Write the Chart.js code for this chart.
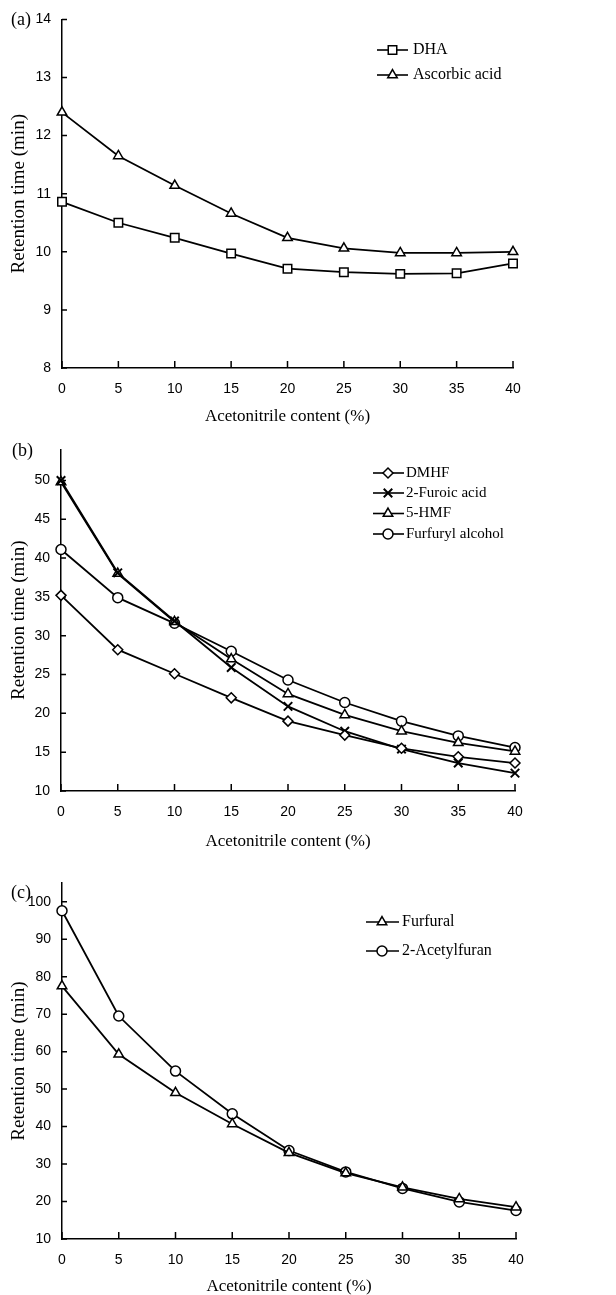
<!DOCTYPE html>
<html>
<head>
<meta charset="utf-8">
<script src="https://cdn.jsdelivr.net/npm/chart.js"></script>
<style>
body { margin: 0; background: #fff; }
#wrap { position: relative; width: 616px; height: 1295px; }
canvas { position: absolute; left: 0; }
.tag { position: absolute; font-family: "Liberation Serif", "Times New Roman", serif; font-size: 18px; line-height: 18px; color: #000; }
</style>
</head>
<body>
<div id="wrap">
  <canvas id="chartA" width="616" height="430" style="top:0"></canvas>
  <canvas id="chartB" width="616" height="430" style="top:430px"></canvas>
  <canvas id="chartC" width="616" height="435" style="top:860px"></canvas>
  <div class="tag" style="left:11px;top:10px">(a)</div>
  <div class="tag" style="left:12px;top:441px">(b)</div>
  <div class="tag" style="left:11px;top:883px">(c)</div>
</div>
<script>
// acetonitrile content (%) on x
const acetonitrile = ['0', '5', '10', '15', '20', '25', '30', '35', '40'];

// (a)
const dha = [10.86, 10.5, 10.24, 9.97, 9.71, 9.65, 9.62, 9.63, 9.8];
const ascorbicAcid = [12.4, 11.65, 11.14, 10.66, 10.24, 10.06, 9.98, 9.98, 10.0];
const yTicksA = [8, 9, 10, 11, 12, 13, 14];

// (b)
const dmhf = [35.2, 28.2, 25.1, 22.0, 19.0, 17.2, 15.5, 14.4, 13.6];
const furoicAcid = [50.0, 38.1, 31.9, 25.9, 20.9, 17.7, 15.4, 13.6, 12.3];
const hmf = [49.8, 38.0, 31.8, 27.0, 22.5, 19.8, 17.7, 16.2, 15.1];
const furfurylAlcohol = [41.1, 34.9, 31.6, 28.0, 24.3, 21.4, 19.0, 17.1, 15.6];
const yTicksB = [10, 15, 20, 25, 30, 35, 40, 45, 50];

// (c)
const furfural = [77.5, 59.3, 49.0, 40.7, 33.0, 27.6, 23.8, 20.7, 18.5];
const acetylfuran = [97.6, 69.5, 54.8, 43.4, 33.6, 27.9, 23.5, 19.9, 17.6];
const yTicksC = [10, 20, 30, 40, 50, 60, 70, 80, 90, 100];

const serif = '"Liberation Serif", "Times New Roman", serif';
Chart.defaults.font.family = '"Liberation Sans", Arial, sans-serif';
Chart.defaults.color = '#000';

// tick marks pointing into the plot
const inwardTicks = {
  id: 'inwardTicks',
  beforeDatasetsDraw(chart) {
    const ctx = chart.ctx, a = chart.chartArea;
    const x = chart.scales.x, y = chart.scales.y;
    ctx.save();
    ctx.strokeStyle = '#000';
    ctx.lineWidth = 1.5;
    ctx.beginPath();
    x.ticks.forEach((t, i) => {
      const px = x.getPixelForTick(i);
      ctx.moveTo(px, a.bottom);
      ctx.lineTo(px, a.bottom - 7);
    });
    y.ticks.forEach((t, i) => {
      const py = y.getPixelForTick(i);
      ctx.moveTo(a.left, py);
      ctx.lineTo(a.left + 5, py);
    });
    ctx.stroke();
    ctx.restore();
  }
};

// legend with line through the marker
const seriesKey = {
  id: 'seriesKey',
  afterDraw(chart, args, opts) {
    const ctx = chart.ctx;
    ctx.save();
    chart.data.datasets.forEach((ds, i) => {
      const y = opts.ys[i];
      ctx.strokeStyle = '#000';
      ctx.lineWidth = 1.6;
      ctx.beginPath();
      ctx.moveTo(opts.x0, y);
      ctx.lineTo(opts.x1, y);
      ctx.stroke();
      ctx.fillStyle = '#fff';
      ctx.lineWidth = ds.pointBorderWidth;
      Chart.helpers.drawPoint(ctx, {
        pointStyle: ds.pointStyle,
        radius: ds.pointRadius,
        rotation: 0,
        borderWidth: ds.pointBorderWidth
      }, opts.xm, y);
      ctx.fillStyle = '#000';
      ctx.font = opts.size + 'px ' + serif;
      ctx.textBaseline = 'middle';
      ctx.textAlign = 'left';
      ctx.fillText(ds.label, opts.xt, y);
    });
    ctx.restore();
  }
};

function serie(label, data, style, radius, bw) {
  return {
    label: label,
    data: data,
    borderColor: '#000',
    borderWidth: 1.8,
    tension: 0,
    pointStyle: style,
    pointRadius: radius,
    pointBorderWidth: bw || 1.5,
    pointBackgroundColor: '#fff',
    pointBorderColor: '#000',
    clip: false
  };
}

function makeChart(id, datasets, p) {
  new Chart(document.getElementById(id), {
    type: 'line',
    data: { labels: acetonitrile, datasets: datasets },
    options: {
      responsive: false,
      animation: false,
      layout: { padding: { top: p.top, right: 616 - p.right, bottom: 0, left: 0 } },
      plugins: {
        legend: { display: false },
        tooltip: { enabled: false },
        seriesKey: p.key
      },
      scales: {
        x: {
          type: 'category',
          offset: false,
          afterFit: s => { s.height = p.bottomH; },
          grid: { display: false, drawTicks: false },
          border: { display: true, color: '#000', width: 1.5 },
          ticks: { font: { size: 14 }, padding: p.xPad, maxRotation: 0, autoSkip: false },
          title: {
            display: true, text: 'Acetonitrile content (%)',
            font: { family: serif, size: 17, lineHeight: 1 },
            padding: { top: 0, bottom: p.titleB }
          }
        },
        y: {
          min: p.min, max: p.max,
          afterBuildTicks: s => { s.ticks = p.ticks.map(v => ({ value: v })); },
          afterFit: s => { s.width = p.left; },
          grid: { display: false, drawTicks: false },
          border: { display: true, color: '#000', width: 1.5 },
          ticks: { font: { size: 14 }, padding: 11 },
          title: {
            display: true, text: 'Retention time (min)',
            font: { family: serif, size: 19, lineHeight: 1 },
            padding: { top: 10, bottom: 0 }
          }
        }
      }
    },
    plugins: [inwardTicks, seriesKey]
  });
}

makeChart('chartA', [
  serie('DHA', dha, 'rect', 6),
  serie('Ascorbic acid', ascorbicAcid, 'triangle', 5.5)
], {
  top: 19, right: 513, left: 62, bottomH: 62, xPad: 12.5, titleB: 4.5,
  min: 8, max: 14, ticks: yTicksA,
  key: { x0: 377, x1: 408, xm: 392.5, xt: 413, ys: [50, 75], size: 16 }
});

makeChart('chartB', [
  serie('DMHF', dmhf, 'rectRot', 5),
  serie('2-Furoic acid', furoicAcid, 'crossRot', 6, 2),
  serie('5-HMF', hmf, 'triangle', 5.5),
  serie('Furfuryl alcohol', furfurylAlcohol, 'circle', 5)
], {
  top: 13, right: 515, left: 61, bottomH: 69, xPad: 12.5, titleB: 10,
  min: 10, max: 54, ticks: yTicksB,
  key: { x0: 373, x1: 404, xm: 388, xt: 406, ys: [43, 63, 83.5, 104], size: 15 }
});

makeChart('chartC', [
  serie('Furfural', furfural, 'triangle', 5.5),
  serie('2-Acetylfuran', acetylfuran, 'circle', 5)
], {
  top: 23, right: 516, left: 62, bottomH: 56, xPad: 13, titleB: 0,
  min: 10, max: 105, ticks: yTicksC,
  key: { x0: 366, x1: 399, xm: 382, xt: 402, ys: [62, 91], size: 16 }
});
</script>
</body>
</html>
